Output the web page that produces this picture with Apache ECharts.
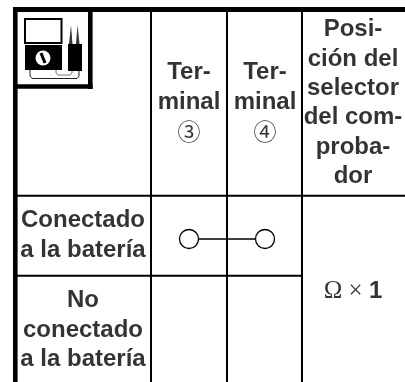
<!DOCTYPE html>
<html>
<head>
<meta charset="utf-8">
<style>
  html, body { margin: 0; padding: 0; background: #fff; }
  #chart { width: 405px; height: 382px; }
</style>
<script src="https://cdn.jsdelivr.net/npm/echarts@6/dist/echarts.min.js"></script>
</head>
<body>
<div id="chart"></div>
<script>
// cell texts
const terminalHeaders = ['Ter-\nminal\n{num|③}', 'Ter-\nminal\n{num|④}']
const selectorHeader = 'Posi-\nción del\nselector\ndel com-\nproba-\ndor'
const rowLabels = ['Conectado\na la batería', 'No\nconectado\na la batería']
const selectorValue = '{sym|Ω × }1'

// table rules, in page units
const columnRules = [151, 227, 302]
const rowRules = [195.8, 275.8]
const tableLeft = 15.3
const tableTop = 9.5
const tableRight = 405
const tableBottom = 382

// continuity between terminal 3 and terminal 4
const connection = [[189, 239], [265, 239]]

const ruleSeries = (points, width) => ({
  type: 'line',
  data: points,
  symbol: 'none',
  silent: true,
  lineStyle: { color: '#000', width }
})

const labelSeries = (points) => ({
  type: 'scatter',
  symbolSize: 0,
  silent: true,
  data: points.map(p => ({ value: [p[0], p[1]], text: p[2] })),
  label: {
    show: true,
    position: 'inside',
    formatter: params => params.data.text,
    fontFamily: '"Liberation Sans", Arial, sans-serif',
    fontWeight: 'bold',
    fontSize: 24,
    lineHeight: 29.3,
    color: '#000',
    align: 'center',
    verticalAlign: 'middle',
    rich: {
      num: { fontFamily: '"Noto Sans CJK JP", "DejaVu Sans"', fontWeight: 'normal', fontSize: 23, lineHeight: 29.3 },
      sym: { fontFamily: '"Liberation Serif", serif', fontWeight: 'normal', fontSize: 25 }
    }
  }
})

const chart = echarts.init(document.getElementById('chart'), null, { renderer: 'canvas' })

chart.setOption({
  animation: false,
  backgroundColor: '#fff',
  grid: { left: 0, right: 0, top: 0, bottom: 0 },
  xAxis: { type: 'value', min: 0, max: 405, show: false },
  yAxis: { type: 'value', min: 0, max: 382, inverse: true, show: false },
  series: [
    ruleSeries([[tableLeft, 7], [tableLeft, tableBottom]], 4.6),
    ruleSeries([[tableLeft, tableTop], [tableRight, tableTop]], 5),
    ruleSeries([[90.3, tableTop], [90.3, 89]], 4.6),
    ruleSeries([[tableLeft, 86.5], [92.6, 86.5]], 4.6),
    ...columnRules.map(x => ruleSeries([[x, tableTop], [x, tableBottom]], 2)),
    ruleSeries([[tableLeft, rowRules[0]], [tableRight, rowRules[0]]], 2),
    ruleSeries([[tableLeft, rowRules[1]], [columnRules[2], rowRules[1]]], 2),
    {
      type: 'line',
      data: connection,
      symbol: 'circle',
      symbolSize: 19,
      silent: true,
      lineStyle: { color: '#000', width: 1.6 },
      itemStyle: { color: '#fff', borderColor: '#000', borderWidth: 1.3 }
    },
    labelSeries([
      [189, 102, terminalHeaders[0]],
      [265, 102, terminalHeaders[1]],
      [353, 103, selectorHeader],
      [83, 235.5, rowLabels[0]],
      [83, 330, rowLabels[1]],
      [353, 291, selectorValue]
    ])
  ],
  // tester icon in the corner cell
  graphic: [
    { type: 'rect', shape: { x: 25, y: 19, width: 36.5, height: 24 }, style: { fill: '#fff', stroke: '#000', lineWidth: 2 } },
    { type: 'rect', shape: { x: 25, y: 45, width: 37, height: 25 }, style: { fill: '#000' } },
    { type: 'circle', shape: { cx: 43, cy: 58, r: 7.5 }, style: { fill: '#fff' } },
    { type: 'line', shape: { x1: 41, y1: 53, x2: 45, y2: 63 }, style: { stroke: '#000', lineWidth: 3 } },
    { type: 'rect', shape: { x: 68, y: 44, width: 14, height: 27 }, style: { fill: '#000' } },
    { type: 'polygon', shape: { points: [[69, 44], [71, 25], [72.5, 44]] }, style: { fill: '#333' } },
    { type: 'polygon', shape: { points: [[76, 44], [77.5, 25], [79.5, 44]] }, style: { fill: '#333' } },
    { type: 'polyline', shape: { points: [[30, 70], [30, 76], [32, 78.5], [77, 78.5], [79, 76], [79, 71]] }, style: { fill: 'none', stroke: '#222', lineWidth: 1 } },
    { type: 'polyline', shape: { points: [[56, 70], [56, 73], [58, 75], [70, 75], [72, 73], [72, 71]] }, style: { fill: 'none', stroke: '#777', lineWidth: 1 } }
  ]
})

window.addEventListener('resize', () => chart.resize())
</script>
</body>
</html>
